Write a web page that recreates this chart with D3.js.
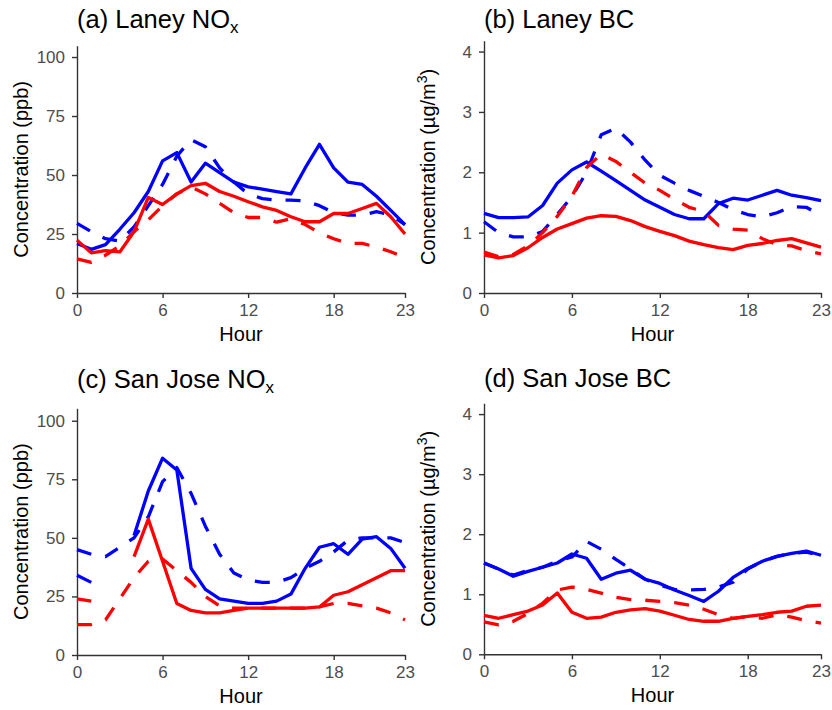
<!DOCTYPE html>
<html>
<head>
<meta charset="utf-8">
<script src="https://cdn.jsdelivr.net/npm/d3@7"></script>
<style>
  body { margin: 0; background: #fff; }
  svg { font-family: "Liberation Sans", Arial, sans-serif; }
  .axis .domain, .axis line { stroke: #333; stroke-width: 1.4; }
  .axis text { fill: #4d4d4d; font-size: 17px; }
</style>
</head>
<body>
<svg id="chart" width="832" height="710"></svg>
<script>
// hour of day on the x axis
const hours = [0, 1, 2, 3, 4, 5, 6, 7, 8, 9, 10, 11, 12, 13, 14, 15, 16, 17, 18, 19, 20, 21, 22, 23];
const hourTicks = [0, 6, 12, 18, 23];
const noxTicks = [0, 25, 50, 75, 100];
const bcTicks = [0, 1, 2, 3, 4];

// (a) Laney NOx, ppb
const laneyNoxBlueSolid = [21, 18.5, 20.5, 27, 34, 43, 56, 59.5, 47, 55, 51, 47, 45, 44, 43, 42, 53, 63, 53, 47, 46, 41, 35, 29];
const laneyNoxBlueDash  = [29.5, 26, 23, 22, 28, 37, 46, 58, 65, 62, 53, 47, 42, 40, 39.4, 39.4, 39, 37, 34, 33, 33, 34.5, 33, 29];
const laneyNoxRedSolid  = [22.4, 17, 18, 17.4, 26, 40.5, 37.5, 42, 45.5, 46.5, 43, 41, 38.7, 36.5, 35, 32.3, 30.2, 30.2, 33.7, 33.7, 35.8, 38, 32.3, 25];
const laneyNoxRedDash   = [14.5, 13, 16, 20, 26, 31, 37, 42, 45, 42, 38, 34, 32, 32, 30, 31.5, 29, 25.5, 23, 21, 21, 19.5, 17.5, 15];

// (b) Laney BC, ug/m3
const laneyBcBlueSolid = [1.32, 1.25, 1.25, 1.26, 1.45, 1.82, 2.04, 2.17, 2.02, 1.86, 1.7, 1.54, 1.42, 1.3, 1.23, 1.23, 1.48, 1.57, 1.54, 1.62, 1.7, 1.62, 1.58, 1.53];
const laneyBcBlueDash  = [1.18, 1.0, 0.93, 0.93, 1.02, 1.3, 1.6, 2.0, 2.62, 2.73, 2.5, 2.2, 1.95, 1.82, 1.7, 1.6, 1.5, 1.38, 1.3, 1.26, 1.33, 1.43, 1.42, 1.28];
const laneyBcRedSolid  = [0.63, 0.58, 0.62, 0.75, 0.92, 1.06, 1.15, 1.24, 1.28, 1.27, 1.2, 1.1, 1.02, 0.95, 0.86, 0.8, 0.75, 0.72, 0.79, 0.82, 0.87, 0.9, 0.83, 0.76];
const laneyBcRedDash   = [0.68, 0.6, 0.64, 0.78, 1.0, 1.27, 1.6, 2.08, 2.3, 2.18, 2.0, 1.82, 1.7, 1.55, 1.42, 1.35, 1.12, 1.06, 1.04, 0.9, 0.8, 0.78, 0.7, 0.65];

// (c) San Jose NOx, ppb (null = no data)
const sanJoseNoxBlueSolid = [34, 31, null, null, 51, 70, 84, 79, 37, 28, 24, 23, 22, 22, 23, 26, 37, 46, 47.5, 43, 49.5, 50.5, 45.5, 37];
const sanJoseNoxBlueDash  = [45, 43, 42, 46, 50, 59, 74, 80, 69, 55, 43, 35, 32, 31, 31, 33, 37, 40, 44, 49, 50, 50, 50, 48];
const sanJoseNoxRedSolid  = [24, 23, null, null, 42, 58, 40, 22, 19, 18, 18, 19, 20, 20, 20, 20, 20, 20.5, 25.5, 27, 30, 33, 36, 36];
const sanJoseNoxRedDash   = [13, 13, 15, 24, 33, 40, 41, 36, 31, 25, 21, 20, 20, 20, 20, 20, 20, 20.5, 22, 22, 21, 20, 18, 15];

// (d) San Jose BC, ug/m3
const sanJoseBcBlueSolid = [1.52, 1.42, 1.3, 1.38, 1.45, 1.52, 1.67, 1.6, 1.25, 1.35, 1.4, 1.25, 1.18, 1.07, 0.98, 0.88, 1.05, 1.28, 1.43, 1.55, 1.63, 1.68, 1.72, 1.65];
const sanJoseBcBlueDash  = [1.52, 1.42, 1.32, 1.4, 1.45, 1.55, 1.62, 1.88, 1.75, 1.58, 1.42, 1.25, 1.15, 1.08, 1.07, 1.08, 1.12, 1.2, 1.42, 1.55, 1.63, 1.68, 1.7, 1.65];
const sanJoseBcRedSolid  = [0.65, 0.6, 0.66, 0.72, 0.82, 1.02, 0.7, 0.6, 0.62, 0.7, 0.74, 0.76, 0.72, 0.65, 0.58, 0.55, 0.55, 0.6, 0.63, 0.66, 0.7, 0.72, 0.8, 0.82];
const sanJoseBcRedDash   = [0.54, 0.49, 0.55, 0.68, 0.85, 1.07, 1.12, 1.08, 1.02, 0.95, 0.91, 0.9, 0.88, 0.86, 0.82, 0.75, 0.66, 0.6, 0.63, 0.6, 0.66, 0.62, 0.56, 0.52];

const svg = d3.select("#chart");

// panel boxes (pixels) and what goes in each
const panels = [
  { title: "(a) Laney NO", sub: "x", bc: false, yMax: 104.8, ticks: noxTicks,
    left: 77, right: 405, top: 45.7, bottom: 293, titleY: 28,
    lines: [laneyNoxBlueSolid, laneyNoxBlueDash, laneyNoxRedSolid, laneyNoxRedDash] },
  { title: "(b) Laney BC", sub: "", bc: true, yMax: 4.18, ticks: bcTicks,
    left: 484, right: 821, top: 40.7, bottom: 293, titleY: 28,
    lines: [laneyBcBlueSolid, laneyBcBlueDash, laneyBcRedSolid, laneyBcRedDash] },
  { title: "(c) San Jose NO", sub: "x", bc: false, yMax: 105.3, ticks: noxTicks,
    left: 77, right: 405, top: 408.3, bottom: 655, titleY: 388,
    lines: [sanJoseNoxBlueSolid, sanJoseNoxBlueDash, sanJoseNoxRedSolid, sanJoseNoxRedDash] },
  { title: "(d) San Jose BC", sub: "", bc: true, yMax: 4.18, ticks: bcTicks,
    left: 484, right: 821, top: 403.3, bottom: 654.3, titleY: 387,
    lines: [sanJoseBcBlueSolid, sanJoseBcBlueDash, sanJoseBcRedSolid, sanJoseBcRedDash] }
];

const lineStyles = [
  { color: "#0000ff", dash: null },
  { color: "#0000ff", dash: "15,14" },
  { color: "#ff0000", dash: null },
  { color: "#ff0000", dash: "15,14" }
];

panels.forEach(function (p) {
  const x = d3.scaleLinear().domain([0, 23]).range([p.left, p.right]);
  const y = d3.scaleLinear().domain([0, p.yMax]).range([p.bottom, p.top]);

  // axes
  svg.append("g")
    .attr("class", "axis")
    .attr("transform", "translate(0," + p.bottom + ")")
    .call(d3.axisBottom(x).tickValues(hourTicks).tickSize(5).tickSizeOuter(0).tickPadding(6));

  svg.append("g")
    .attr("class", "axis")
    .attr("transform", "translate(" + p.left + ",0)")
    .call(d3.axisLeft(y).tickValues(p.ticks).tickFormat(d3.format("d"))
      .tickSize(5).tickSizeOuter(0).tickPadding(7));

  // the lines
  const line = d3.line()
    .defined(d => d != null)
    .x((d, i) => x(hours[i]))
    .y(d => y(d));

  p.lines.forEach(function (vals, k) {
    svg.append("path")
      .datum(vals)
      .attr("fill", "none")
      .attr("stroke", lineStyles[k].color)
      .attr("stroke-width", 3.3)
      .attr("stroke-linejoin", "round")
      .attr("stroke-dasharray", lineStyles[k].dash)
      .attr("d", line);
  });

  // panel title
  const t = svg.append("text")
    .attr("x", p.left)
    .attr("y", p.titleY)
    .attr("font-size", 25.5)
    .attr("fill", "#000")
    .text(p.title);
  if (p.sub) {
    t.append("tspan").attr("dy", 5).attr("font-size", 17).text(p.sub);
  }

  // x axis title
  svg.append("text")
    .attr("x", (p.left + p.right) / 2)
    .attr("y", p.bottom + 48)
    .attr("text-anchor", "middle")
    .attr("font-size", 20)
    .text("Hour");

  // y axis title
  const yl = svg.append("text")
    .attr("transform", "translate(" + (p.left - 49) + "," + ((p.top + p.bottom) / 2) + ") rotate(-90)")
    .attr("text-anchor", "middle")
    .attr("font-size", 20);
  if (p.bc) {
    yl.append("tspan").text("Concentration (\u00b5g/m");
    yl.append("tspan").attr("dy", -8).attr("font-size", 14).text("3");
    yl.append("tspan").attr("dy", 8).text(")");
  } else {
    yl.text("Concentration (ppb)");
  }
});
</script>
</body>
</html>
